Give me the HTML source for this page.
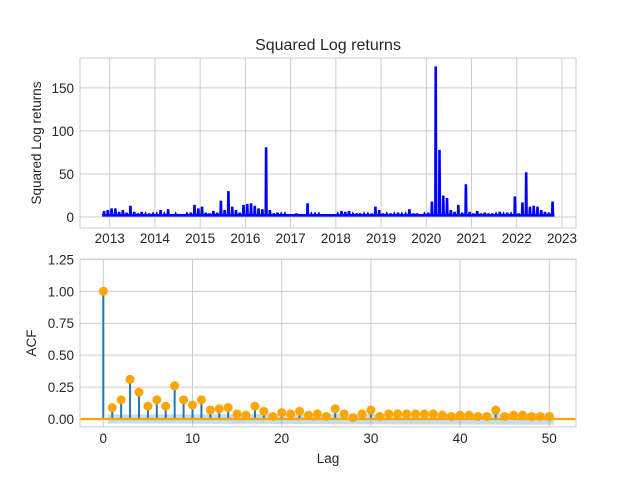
<!DOCTYPE html>
<html><head><meta charset="utf-8"><style>
body{margin:0;background:#fff}
svg{font-family:"Liberation Sans",Arial,sans-serif}
</style></head><body>
<svg id="c" width="640" height="480" xmlns="http://www.w3.org/2000/svg">
<rect width="640" height="480" fill="#fff"/>
<g id="top"></g>
<g id="bot"></g>
</svg>
<script>
// ---- data: squared log returns (monthly peaks, starting Nov 2012) ----
const startYear = 2012 + 10/12;
const returnPeaks = [7,8,
10,10,6,8,5,13,6,4,6,3,4,3,
3,8,3,9,2,3,2,2,3,5,14,10,
12,5,4,7,5,19,8,30,12,8,5,14,
15,16,13,10,9,81,8,4,5,3,3,2,
2,4,2,2,16,3,3,3,2,2,2,2,
3,7,6,7,3,4,4,3,3,4,12,8,
4,3,4,3,5,3,3,9,4,4,2,3,
5,18,175,78,25,22,8,6,14,5,38,6,
4,7,4,5,4,4,3,6,3,5,3,24,
4,17,52,12,13,12,8,6,5,18];
const baseLevel = 2;
const yearTicks = [2013,2014,2015,2016,2017,2018,2019,2020,2021,2022,2023];
const topYTicks = [0,50,100,150];
// ---- data: ACF ----
const lags = [];
for (let i=0;i<=50;i++) lags.push(i);
const acfValues = [1.00,0.09,0.15,0.31,0.21,0.10,0.15,0.10,0.26,0.15,0.11,0.15,0.07,0.08,0.09,0.04,0.03,0.10,0.06,0.02,0.05,0.04,0.06,0.03,0.04,0.02,0.08,0.04,0.01,0.04,0.07,0.02,0.04,0.04,0.04,0.04,0.04,0.04,0.03,0.02,0.03,0.03,0.02,0.02,0.07,0.02,0.03,0.03,0.02,0.02,0.02];
const confHalf = [0.035,0.045];
const lagTicks = [0,10,20,30,40,50];
const acfYTicks = [0.00,0.25,0.50,0.75,1.00,1.25];

const NS="http://www.w3.org/2000/svg";
function mk(parent,tag,attrs,text){const e=document.createElementNS(NS,tag);for(const k in attrs)e.setAttribute(k,attrs[k]);if(text!==undefined)e.textContent=text;parent.appendChild(e);return e;}

// ---- top panel ----
const T=document.getElementById('top');
const tL=80,tR=576,tT=58,tB=228;
const xT=v=>109.7+(v-2013)*45.23;
const yT=v=>217-v*0.8607;
for(const t of yearTicks){
  const l=mk(T,'line',{x1:xT(t),x2:xT(t),y1:tT,y2:tB,stroke:'#cccccc','stroke-width':1});
  
  
  const tx=mk(T,'text',{x:xT(t),y:tB+15,'text-anchor':'middle','font-size':13.5,fill:'#262626'},String(t));
  
  
}
for(const v of topYTicks){
  const l=mk(T,'line',{x1:tL,x2:tR,y1:yT(v),y2:yT(v),stroke:'#cccccc','stroke-width':1});
  
  
  const tx=mk(T,'text',{x:tL-6,y:yT(v)+5,'text-anchor':'end','font-size':13.5,fill:'#262626'},String(v));
  
  
}
let d='';
returnPeaks.forEach((p,i)=>{
  const t0=startYear+i/12;
  d+=(i?'L':'M')+xT(t0).toFixed(2)+','+yT(baseLevel).toFixed(2)
    +'L'+xT(t0+0.4/12).toFixed(2)+','+yT(baseLevel).toFixed(2)
    +'L'+xT(t0+0.5/12).toFixed(2)+','+yT(p).toFixed(2)
    +'L'+xT(t0+0.6/12).toFixed(2)+','+yT(baseLevel).toFixed(2)
    +'L'+xT(t0+1/12).toFixed(2)+','+yT(baseLevel).toFixed(2);
});
const line=mk(T,'path',{d:d,fill:'none',stroke:'#0000ff','stroke-width':2.6,'stroke-linejoin':'miter'});


const f1=mk(T,'rect',{x:tL,y:tT,width:tR-tL,height:tB-tT,fill:'none',stroke:'#cccccc','stroke-width':1});


const ttl=mk(T,'text',{x:328,y:50,'text-anchor':'middle','font-size':16,fill:'#262626'},'Squared Log returns');


const yl=mk(T,'text',{x:0,y:0,transform:'translate(41,143) rotate(-90)','text-anchor':'middle','font-size':13.5,fill:'#262626'},'Squared Log returns');



// ---- bottom panel ----
const B=document.getElementById('bot');
const bL=80,bR=576,bT=259,bB=427;
const xB=v=>103.3+v*8.92;
const yB=v=>419-v*127.7;
for(const t of lagTicks){
  const l=mk(B,'line',{x1:xB(t),x2:xB(t),y1:bT,y2:bB,stroke:'#cccccc','stroke-width':1});
  
  
  const tx=mk(B,'text',{x:xB(t),y:bB+16,'text-anchor':'middle','font-size':13.5,fill:'#262626'},String(t));
  
  
}
for(const v of acfYTicks){
  const l=mk(B,'line',{x1:bL,x2:bR,y1:yB(v),y2:yB(v),stroke:'#cccccc','stroke-width':1});
  
  
  const tx=mk(B,'text',{x:bL-6,y:yB(v)+5,'text-anchor':'end','font-size':13.5,fill:'#262626'},v.toFixed(2));
  
  
}
const band=mk(B,'polygon',{points:[xB(0.5)+','+yB(confHalf[0]),xB(50.5)+','+yB(confHalf[1]),xB(50.5)+','+yB(-confHalf[1]),xB(0.5)+','+yB(-confHalf[0])].join(' '),fill:'#1f77b4','fill-opacity':0.25});


lags.forEach((lg,i)=>{
  const s=mk(B,'line',{x1:xB(lg),x2:xB(lg),y1:yB(0),y2:yB(acfValues[i]),stroke:'#1f77b4','stroke-width':2});
  
  
});
const z=mk(B,'line',{x1:bL,x2:bR,y1:yB(0),y2:yB(0),stroke:'#ffa500','stroke-width':2.2});


lags.forEach((lg,i)=>{
  const c=mk(B,'circle',{cx:xB(lg),cy:yB(acfValues[i]),r:4.5,fill:'#ffa500'});
  
  
});
const f2=mk(B,'rect',{x:bL,y:bT,width:bR-bL,height:bB-bT,fill:'none',stroke:'#cccccc','stroke-width':1});


const xl=mk(B,'text',{x:328,y:463,'text-anchor':'middle','font-size':13.5,fill:'#262626'},'Lag');


const al=mk(B,'text',{x:0,y:0,transform:'translate(36,343) rotate(-90)','text-anchor':'middle','font-size':13.5,fill:'#262626'},'ACF');


</script>
</body></html>
